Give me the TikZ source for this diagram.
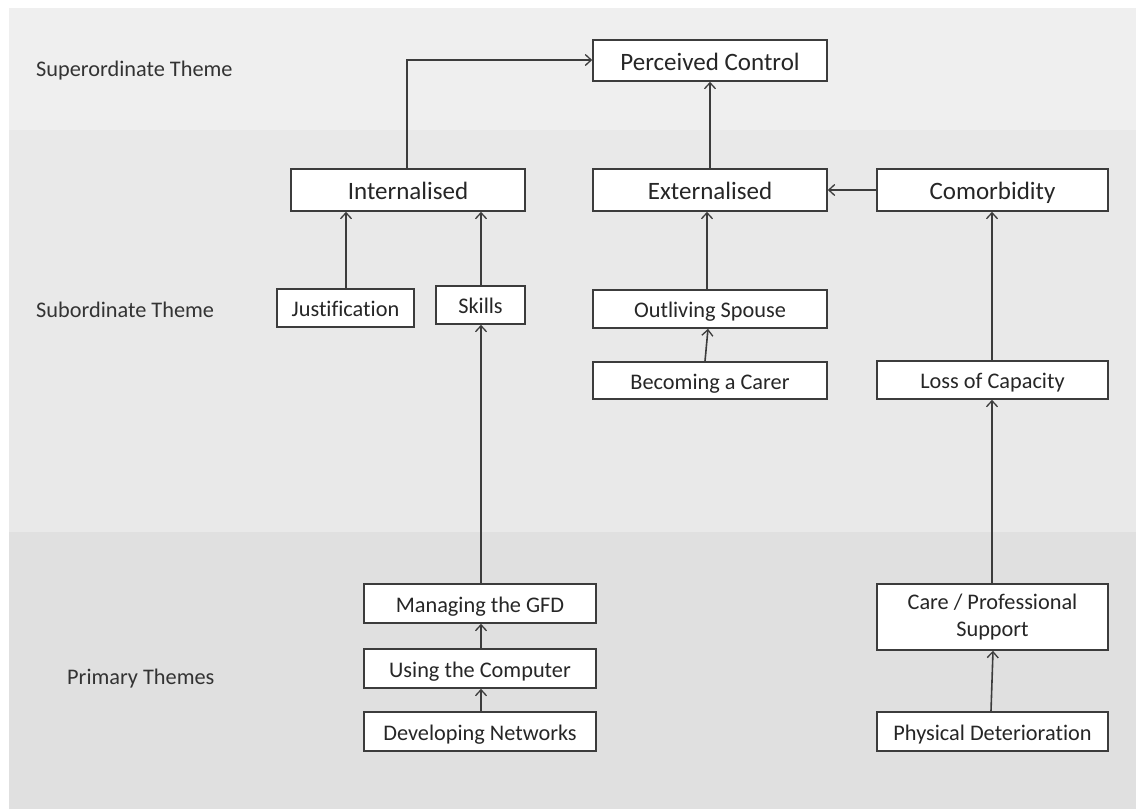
\documentclass[tikz,border=0pt]{standalone}
\usepackage{fontspec}
\setmainfont{Carlito}[Ligatures=NoCommon]
\usetikzlibrary{arrows.meta}
\definecolor{bandA}{HTML}{EFEFEF}
\definecolor{bandB}{HTML}{E9E9E9}
\definecolor{bandC}{HTML}{E0E0E0}
\definecolor{ink}{HTML}{3C3C3C}
\tikzset{
  boxbase/.style={draw=ink, line width=1.6pt, fill=white, inner sep=0pt, text=black!85},
  bigbox/.style={boxbase, font=\fontsize{25}{30}\selectfont, text height=20pt, text depth=1pt},
  smallbox/.style={boxbase, font=\fontsize{22.3}{27}\selectfont, text height=18pt, text depth=0.2pt},
  twolinebox/.style={boxbase, font=\fontsize{22.3}{27}\selectfont, align=center},
  themelabel/.style={anchor=west, inner sep=0pt, font=\fontsize{22.3}{27}\selectfont, text=black!80},
  link/.style={draw=ink, line width=1.6pt, -{Straight Barb[length=6pt,width=11pt,line width=1.3pt]}}
}
\begin{document}
\begin{tikzpicture}[x=1pt,y=-1pt]
\useasboundingbox (0,0) rectangle (1136,809);
\fill[white] (0,0) rectangle (1136,809);
\fill[bandA] (9,8) rectangle (1136,130);
\fill[bandB] (9,130) rectangle (1136,532);
\fill[bandC] (9,532) rectangle (1136,809);

\node[themelabel] (lsup) at (36,71) {Superordinate Theme};
\node[themelabel] (lsub) at (36,310) {Subordinate Theme};
\node[themelabel] (lpri) at (67,679) {Primary Themes};

\node[bigbox, minimum width=234pt, minimum height=41pt] (pc) at (710,60.5) {Perceived Control};
\node[bigbox, minimum width=234pt, minimum height=42pt] (int) at (408,190) {Internalised};
\node[bigbox, minimum width=234pt, minimum height=42pt] (ext) at (710,190) {Externalised};
\node[bigbox, minimum width=231pt, minimum height=42pt] (com) at (992.5,190) {Comorbidity};

\node[smallbox, minimum width=137pt, minimum height=38pt] (jus) at (345.5,308) {Justification};
\node[smallbox, minimum width=89pt, minimum height=38pt] (ski) at (480.5,305) {Skills};
\node[smallbox, minimum width=234pt, minimum height=38pt] (out) at (710,309) {Outliving Spouse};
\node[smallbox, minimum width=234pt, minimum height=37pt] (bec) at (710,380.5) {Becoming a Carer};
\node[smallbox, minimum width=231pt, minimum height=38pt] (los) at (992.5,380) {Loss of Capacity};

\node[smallbox, minimum width=232pt, minimum height=39pt] (man) at (480,603.5) {Managing the GFD};
\node[smallbox, minimum width=232pt, minimum height=39pt] (usi) at (480,668.5) {Using the Computer};
\node[smallbox, minimum width=232pt, minimum height=39pt] (dev) at (480,731.5) {Developing Networks};
\node[twolinebox, minimum width=231pt, minimum height=66pt] (car) at (992.5,617) {Care / Professional\\Support};
\node[smallbox, minimum width=231pt, minimum height=39pt] (phy) at (992.5,731.5) {Physical Deterioration};

% connectors
\coordinate (bend) at (407,60);
\coordinate (xj) at (346,0);
\coordinate (xs) at (481,0);
\coordinate (xa) at (707,0);
\coordinate (xb) at (705,0);
\coordinate (xc) at (708,0);
\coordinate (xp) at (710,0);
\coordinate (xr) at (992,0);
\coordinate (xd) at (991,0);
\coordinate (xe) at (993,0);
\coordinate (yc) at (0,190);
\draw[link] (int.north -| bend) -- (bend) -- (pc.west |- bend);
\draw[link] (ext.north -| xp) -- (pc.south -| xp);
\draw[link] (com.west |- yc) -- (ext.east |- yc);
\draw[link] (jus.north -| xj) -- (int.south -| xj);
\draw[link] (ski.north -| xs) -- (int.south -| xs);
\draw[link] (man.north -| xs) -- (ski.south -| xs);
\draw[link] (usi.north -| xs) -- (man.south -| xs);
\draw[link] (dev.north -| xs) -- (usi.south -| xs);
\draw[link] (out.north -| xa) -- (ext.south -| xa);
\draw[link] (bec.north -| xb) -- (out.south -| xc);
\draw[link] (los.north -| xr) -- (com.south -| xr);
\draw[link] (car.north -| xr) -- (los.south -| xr);
\draw[link] (phy.north -| xd) -- (car.south -| xe);
\end{tikzpicture}
\end{document}
